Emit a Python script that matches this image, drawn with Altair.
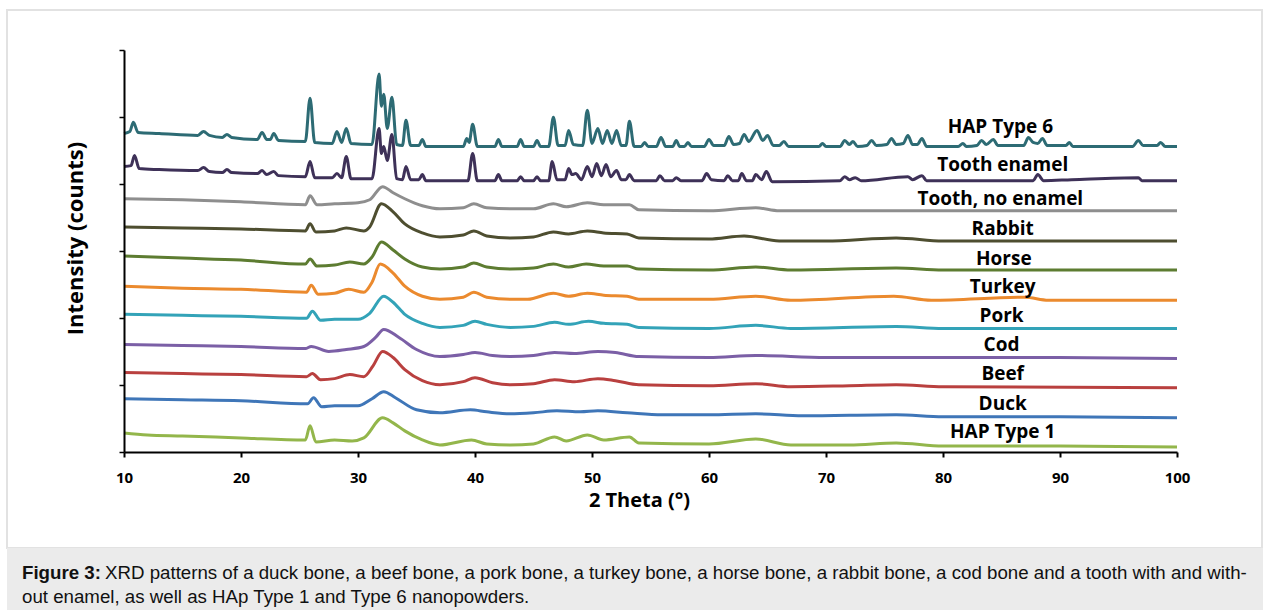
import altair as alt
import pandas as pd

# ---- data (2 Theta in degrees, intensity in counts) ----
hap6_t = [10.0, 10.5, 10.8, 11.2, 13.0, 16.3, 16.8, 17.3, 18.4, 18.8, 19.2, 21.4, 21.8, 22.2, 22.5, 22.8, 23.2,
          25.5, 25.9, 26.3, 27.8, 28.2, 28.6, 29.0, 29.4, 31.2, 31.8, 32.0, 32.2, 32.5, 32.9, 33.3, 33.8, 34.1,
          34.5, 35.2, 35.5, 35.8, 39.0, 39.3, 39.5, 39.8, 40.2, 41.7, 42.0, 42.3, 43.6, 43.9, 44.2, 45.0, 45.3,
          45.6, 46.3, 46.7, 47.1, 47.7, 48.0, 48.4, 49.2, 49.6, 50.0, 50.5, 50.9, 51.3, 51.7, 52.1, 52.5, 52.9,
          53.2, 53.6, 54.2, 54.5, 54.8, 55.5, 55.9, 56.3, 56.9, 57.2, 57.5, 57.9, 58.2, 58.5, 59.6, 60.0, 60.4,
          61.3, 61.7, 62.1, 62.6, 63.0, 63.4, 64.1, 64.6, 65.0, 65.5, 66.0, 66.4, 66.8, 69.4, 69.7, 70.0, 71.2,
          71.6, 72.0, 72.3, 72.7, 73.5, 73.9, 74.3, 75.2, 75.6, 76.0, 76.6, 77.0, 77.4, 77.8, 78.2, 78.6, 81.3,
          81.7, 82.0, 82.9, 83.3, 83.7, 84.3, 84.7, 86.9, 87.3, 87.7, 88.1, 88.5, 88.9, 90.5, 90.8, 91.1, 96.2,
          96.7, 97.1, 98.3, 98.6, 99.0, 100.0]
hap6_y = [4755, 4785, 4920, 4770, 4755, 4725, 4785, 4725, 4695, 4740, 4695, 4665, 4770, 4665, 4665, 4755, 4650,
          4635, 5280, 4620, 4605, 4785, 4620, 4830, 4605, 4590, 5640, 5160, 5340, 4830, 5295, 4590, 4575, 4950,
          4575, 4575, 4665, 4560, 4560, 4680, 4620, 4890, 4560, 4560, 4665, 4560, 4560, 4665, 4560, 4560, 4650,
          4560, 4560, 4995, 4575, 4575, 4800, 4590, 4575, 5100, 4605, 4830, 4605, 4800, 4605, 4800, 4575, 4575,
          4935, 4560, 4560, 4620, 4560, 4560, 4695, 4560, 4560, 4650, 4560, 4560, 4620, 4560, 4560, 4665, 4575,
          4575, 4710, 4590, 4605, 4740, 4635, 4800, 4650, 4725, 4575, 4575, 4635, 4560, 4560, 4605, 4560, 4560,
          4650, 4590, 4635, 4560, 4575, 4650, 4575, 4590, 4680, 4590, 4605, 4725, 4590, 4590, 4680, 4560, 4560,
          4605, 4560, 4575, 4650, 4590, 4665, 4575, 4575, 4695, 4620, 4605, 4680, 4575, 4575, 4620, 4560, 4560,
          4650, 4575, 4575, 4620, 4560, 4560]

enamel_t = [10.0, 10.6, 10.9, 11.3, 13.0, 16.3, 16.8, 17.3, 18.4, 18.8, 19.2, 21.4, 21.8, 22.2, 22.8, 23.2, 25.5,
            25.9, 26.3, 27.8, 28.2, 28.6, 29.0, 29.4, 31.2, 31.8, 32.0, 32.2, 32.5, 32.9, 33.3, 33.8, 34.1, 34.5,
            35.2, 35.5, 35.8, 39.4, 39.8, 40.2, 41.7, 42.0, 42.3, 43.6, 43.9, 44.2, 45.0, 45.3, 45.6, 46.3, 46.6,
            47.0, 47.7, 48.0, 48.3, 48.6, 49.1, 49.6, 50.0, 50.4, 50.8, 51.2, 51.6, 52.1, 52.5, 52.9, 53.2, 53.6,
            55.5, 55.8, 56.2, 56.9, 57.2, 57.6, 59.4, 59.8, 60.2, 61.3, 61.6, 62.0, 62.5, 62.8, 63.2, 63.7, 64.0,
            64.5, 64.9, 65.4, 71.2, 71.6, 72.0, 72.5, 73.0, 77.0, 77.4, 78.2, 78.6, 87.7, 88.1, 88.6, 91.0, 96.7,
            97.0, 100.0]
enamel_y = [4260, 4275, 4425, 4230, 4215, 4200, 4245, 4185, 4170, 4215, 4170, 4155, 4200, 4140, 4185, 4125, 4110,
            4335, 4095, 4095, 4155, 4095, 4410, 4080, 4080, 4830, 4455, 4560, 4350, 4740, 4080, 4065, 4260, 4065,
            4065, 4140, 4050, 4050, 4455, 4050, 4050, 4140, 4050, 4050, 4110, 4050, 4050, 4110, 4050, 4050, 4335,
            4065, 4065, 4230, 4140, 4155, 4065, 4260, 4110, 4305, 4125, 4290, 4110, 4200, 4065, 4065, 4140, 4050,
            4050, 4125, 4050, 4050, 4095, 4050, 4050, 4155, 4065, 4050, 4125, 4050, 4050, 4155, 4050, 4050, 4140,
            4065, 4185, 4035, 4050, 4110, 4065, 4095, 4050, 4110, 4065, 4125, 4050, 4050, 4140, 4050, 4065, 4095,
            4050, 4050]

noenamel_t = [10, 15, 20, 25.5, 25.9, 26.5, 28, 30, 31, 32.1, 33, 34, 35.5, 37, 39, 39.9, 41, 43, 45, 46.7, 47.8,
              49.6, 51, 53.2, 54, 60, 64, 66, 70, 80, 90, 100]
noenamel_y = [3780, 3765, 3735, 3690, 3825, 3690, 3705, 3720, 3765, 3960, 3870, 3780, 3675, 3630, 3645, 3705, 3645,
              3630, 3630, 3705, 3660, 3720, 3690, 3690, 3615, 3600, 3645, 3600, 3600, 3600, 3600, 3600]

rabbit_t = [10, 15, 20, 25.5, 25.9, 26.4, 28, 29, 30.5, 31, 32.0, 33, 34, 35.5, 37, 39, 39.9, 41, 43, 45, 46.7, 48,
            49.6, 51, 53, 54, 60, 63, 66, 70, 76, 80, 90, 100]
rabbit_y = [3360, 3345, 3330, 3300, 3405, 3285, 3300, 3345, 3300, 3360, 3705, 3585, 3405, 3270, 3210, 3240, 3300,
            3225, 3195, 3210, 3285, 3255, 3300, 3270, 3255, 3195, 3180, 3225, 3150, 3150, 3195, 3150, 3150, 3150]

horse_t = [10, 15, 20, 25.5, 25.9, 26.5, 28, 29.3, 30.5, 31.2, 32.0, 33, 34, 35.5, 37, 39, 39.9, 41, 43, 45, 46.7,
           48, 49.5, 51, 53, 54, 60, 64, 67, 76, 80, 100]
horse_y = [2925, 2895, 2865, 2805, 2880, 2775, 2790, 2835, 2805, 2910, 3135, 3015, 2880, 2760, 2730, 2760, 2820,
           2760, 2730, 2745, 2805, 2760, 2805, 2775, 2775, 2730, 2715, 2760, 2715, 2745, 2715, 2715]

turkey_t = [10, 15, 20, 25.6, 26.0, 26.6, 28, 29.2, 30.5, 31.2, 31.9, 33, 34, 35.5, 37, 39, 39.9, 41, 43, 44.5, 46.7,
            48, 49.6, 51, 53, 54, 60, 64, 67, 75.8, 79, 87, 89, 100]
turkey_y = [2475, 2445, 2430, 2385, 2490, 2355, 2370, 2430, 2385, 2535, 2805, 2670, 2475, 2325, 2280, 2310, 2385,
            2310, 2280, 2280, 2370, 2325, 2370, 2340, 2325, 2280, 2280, 2325, 2265, 2325, 2265, 2310, 2265, 2265]

pork_t = [10, 15, 20, 25.6, 26.1, 26.8, 28, 30, 31, 32.2, 33, 34, 35.5, 37, 39, 40.0, 41, 43, 45, 46.8, 48, 49.7,
          51, 53, 54, 60, 64, 67, 76, 80, 100]
pork_y = [2055, 2040, 2025, 1995, 2100, 1965, 1980, 1980, 2070, 2325, 2235, 2055, 1920, 1860, 1890, 1950, 1905,
          1860, 1875, 1935, 1905, 1950, 1920, 1905, 1860, 1845, 1890, 1845, 1875, 1845, 1845]

cod_t = [10, 15, 20, 25.5, 26.0, 27.5, 29, 30.5, 31.5, 32.2, 33.5, 35, 37, 39, 40.0, 41.5, 43, 45, 46.8, 48.5, 50.5,
         52, 54, 60, 64, 70, 80, 90, 100]
cod_y = [1605, 1590, 1575, 1545, 1575, 1500, 1530, 1575, 1710, 1830, 1710, 1530, 1425, 1455, 1485, 1440, 1425, 1440,
         1485, 1470, 1500, 1485, 1425, 1410, 1440, 1410, 1410, 1410, 1395]

beef_t = [10, 15, 20, 25.6, 26.1, 26.8, 28, 29.3, 30.5, 31.3, 32.1, 33, 34, 35.5, 37, 39, 40.0, 41.5, 43, 45, 46.8,
          48.5, 50.5, 52, 54, 60, 64, 67, 72, 76, 80, 100]
beef_y = [1185, 1170, 1155, 1125, 1170, 1080, 1095, 1155, 1125, 1290, 1500, 1410, 1230, 1065, 1005, 1050, 1110,
          1035, 1005, 1020, 1080, 1050, 1095, 1065, 1005, 990, 1020, 975, 990, 1005, 975, 960]

duck_t = [10, 15, 20, 25.7, 26.2, 26.9, 28, 30, 31.2, 32.2, 33.2, 35, 37, 39.6, 41, 43, 45, 47, 49, 50.5, 53, 56,
          60, 64, 68, 76, 80, 90, 100]
duck_y = [795, 780, 765, 720, 810, 675, 690, 690, 795, 900, 810, 630, 585, 630, 600, 570, 585, 615, 600, 615, 585,
          555, 555, 570, 540, 555, 525, 525, 510]

hap1_t = [10, 12, 15, 20, 25.5, 25.9, 26.4, 28, 29.5, 30.5, 32.1, 33, 34, 35.5, 37, 39.7, 41, 43, 45, 46.8, 47.8,
          49.6, 51, 53.2, 54, 60, 64, 67, 72, 76, 80, 90, 100]
hap1_y = [285, 255, 240, 210, 180, 390, 150, 180, 165, 210, 510, 435, 315, 180, 105, 180, 120, 105, 120, 225, 165,
          255, 180, 225, 135, 120, 195, 105, 105, 135, 90, 90, 75]

series_names = ["HAP Type 6", "Tooth enamel", "Tooth, no enamel", "Rabbit", "Horse", "Turkey",
                "Pork", "Cod", "Beef", "Duck", "HAP Type 1"]
series_colors = ["#2d6b74", "#3e3158", "#8e8e8e", "#4e4e30", "#5d7c31", "#eb8a2e",
                 "#33a3b8", "#7b5fa6", "#b9403f", "#3f76b8", "#93b64b"]
series_t = [hap6_t, enamel_t, noenamel_t, rabbit_t, horse_t, turkey_t, pork_t, cod_t, beef_t, duck_t, hap1_t]
series_y = [hap6_y, enamel_y, noenamel_y, rabbit_y, horse_y, turkey_y, pork_y, cod_y, beef_y, duck_y, hap1_y]

label_t = [84.9, 85.1, 84.9, 85.1, 85.2, 85.1, 85.0, 85.0, 85.1, 85.1, 85.1]
label_y = [4845, 4290, 3780, 3330, 2880, 2460, 2025, 1590, 1170, 720, 300]

x_ticks = [10, 20, 30, 40, 50, 60, 70, 80, 90, 100]
y_ticks = [0, 1000, 2000, 3000, 4000, 5000, 6000]

caption_bold = "Figure 3:"
caption_line1 = ("XRD patterns of a duck bone, a beef bone, a pork bone, a turkey bone, a horse bone, "
                 "a rabbit bone, a cod bone and a tooth with and with-")
caption_line2 = "out enamel, as well as HAp Type 1 and Type 6 nanopowders."

# ---- tables ----
rows = []
for name, ts, ys in zip(series_names, series_t, series_y):
    for t, y in zip(ts, ys):
        rows.append({"series": name, "theta": t, "counts": y})
df = pd.DataFrame(rows)
labels_df = pd.DataFrame({"series": series_names, "theta": label_t, "counts": label_y})

W, H = 1053, 402
FONT = "Open Sans"
CAPFONT = "Liberation Sans"
CAPSIZE = 18.7

xscale = alt.Scale(domain=[10, 100], nice=False, zero=False)
yscale = alt.Scale(domain=[0, 6000], nice=False)
color = alt.Color("series:N", scale=alt.Scale(domain=series_names, range=series_colors), legend=None)

# frame and caption box (page decoration)
frame = alt.Chart(pd.DataFrame({"k": [0]})).mark_rect(
    fill="white", stroke="#e2e2e2", strokeWidth=2
).encode(x=alt.value(-117), x2=alt.value(1138), y=alt.value(-40), y2=alt.value(498))

capbox = alt.Chart(pd.DataFrame({"k": [0]})).mark_rect(fill="#ebebeb").encode(
    x=alt.value(-117), x2=alt.value(1139), y=alt.value(498), y2=alt.value(562))

cap1b = alt.Chart(pd.DataFrame({"t": [caption_bold]})).mark_text(
    font=CAPFONT, fontSize=CAPSIZE, fontWeight="bold", align="left", baseline="alphabetic", color="#111"
).encode(text="t:N", x=alt.value(-102), y=alt.value(529))
cap1 = alt.Chart(pd.DataFrame({"t": [caption_line1]})).mark_text(
    font=CAPFONT, fontSize=CAPSIZE, align="left", baseline="alphabetic", color="#111"
).encode(text="t:N", x=alt.value(-19), y=alt.value(529))
cap2 = alt.Chart(pd.DataFrame({"t": [caption_line2]})).mark_text(
    font=CAPFONT, fontSize=CAPSIZE, align="left", baseline="alphabetic", color="#111"
).encode(text="t:N", x=alt.value(-102), y=alt.value(553))

lines = alt.Chart(df).mark_line(strokeWidth=3, interpolate="monotone").encode(
    x=alt.X("theta:Q", scale=xscale, title="2 Theta  (°)",
            axis=alt.Axis(values=x_ticks, format="d", grid=False, domainColor="black", domainWidth=2,
                          tickColor="black", tickWidth=2, tickSize=5, labelFont=FONT, labelFontWeight="bold",
                          labelFontSize=15, labelColor="black", labelPadding=13, labelFlush=False,
                          titleFont=FONT, titleFontWeight="bold", titleFontSize=20, titleColor="black",
                          titlePadding=5, titleX=515, titleAlign="center", zindex=2)),
    y=alt.Y("counts:Q", scale=yscale, title="Intensity (counts)",
            axis=alt.Axis(values=y_ticks, labels=False, grid=False, domainColor="black", domainWidth=2,
                          tickColor="black", tickWidth=1.5, tickSize=5, titleFont=FONT, titleFontWeight="bold",
                          titleFontSize=22, titleColor="black", titlePadding=31, titleY=188,
                          titleAlign="center", zindex=2)),
    color=color,
    detail="series:N",
)

labels = alt.Chart(labels_df).mark_text(
    font=FONT, fontWeight="bold", fontSize=19, align="center", baseline="middle", color="black"
).encode(x=alt.X("theta:Q", scale=xscale), y=alt.Y("counts:Q", scale=yscale), text="series:N")

chart = alt.layer(frame, capbox, cap1b, cap1, cap2, lines, labels).properties(
    width=W, height=H,
    padding={"left": 124, "top": 50, "right": 86, "bottom": 158},
    autosize=alt.AutoSizeParams(type="none"),
    background="white",
).configure_view(stroke=None)

chart.save("out.html", embed_options={"renderer": "svg", "actions": False})
